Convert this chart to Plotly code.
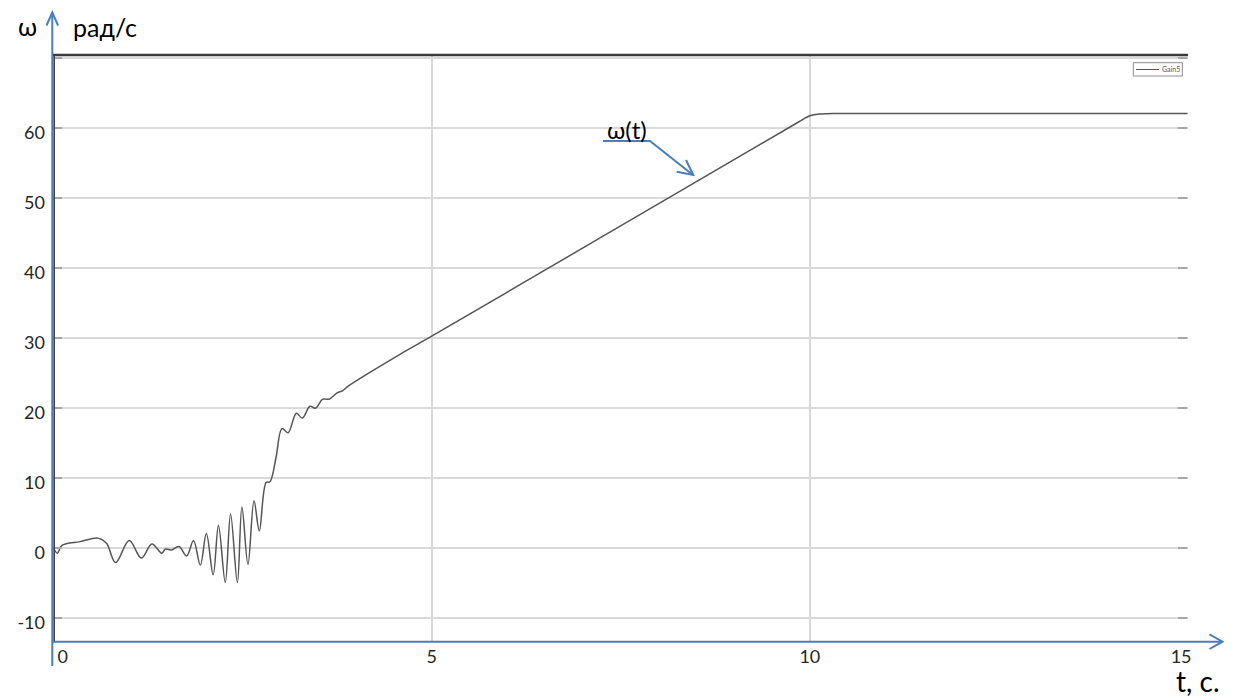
import plotly.graph_objects as go

# Angular speed of the drive, rad/s, sampled at time t, s
t_s = [0.00, 0.05, 0.11, 0.35, 0.59, 0.70, 0.82, 1.00, 1.16, 1.30, 1.43, 1.48,
       1.56, 1.60, 1.66, 1.76, 1.85, 1.94, 2.02, 2.11, 2.18, 2.27, 2.34, 2.43,
       2.49, 2.57, 2.65, 2.72, 2.81, 2.86, 2.94, 3.02, 3.10, 3.21, 3.29, 3.39,
       3.46, 3.56, 3.64, 3.75, 3.82, 3.90, 4.58, 5.00, 7.22, 9.85, 10.00,
       10.15, 10.40, 15.00]
omega = [0.0, -0.7, 0.4, 0.95, 1.45, 0.7, -2.05, 1.1, -1.4, 0.6, -0.7, -0.1,
         -0.25, 0.0, 0.25, -1.1, 1.1, -2.4, 2.1, -3.8, 3.3, -4.9, 4.9, -4.9,
         5.9, -2.3, 6.8, 2.5, 9.4, 9.5, 12.9, 17.1, 16.5, 19.3, 18.6, 20.3,
         20.0, 21.3, 21.3, 22.2, 22.5, 23.2, 27.7, 30.3, 44.3, 60.9, 61.8,
         62.05, 62.1, 62.1]

x_tick_vals = [0, 5, 10, 15]
x_tick_text = ["0", "5", "10", "15"]
y_tick_vals = [-10, 0, 10, 20, 30, 40, 50, 60, 70]
y_tick_text = ["-10", "0", "10", "20", "30", "40", "50", "60", ""]
series_name = "Gain5"

FIG_W, FIG_H = 1233, 699
M_L, M_R, M_T, M_B = 52, 45, 55, 57
PW = FIG_W - M_L - M_R
PH = FIG_H - M_T - M_B

NBSP = "\u00a0"
# first label sits just right of the vertical axis, last one just left of the arrow
x_tick_shown = [NBSP * 4 + x_tick_text[0]] + x_tick_text[1:-1] + [x_tick_text[-1] + NBSP * 3]


def px(x):
    """Pixel column -> paper x."""
    return (x - M_L) / PW


def py(y):
    """Pixel row -> paper y."""
    return (FIG_H - M_B - y) / PH


def path(points):
    return "M " + " L ".join(f"{px(a):.5f},{py(b):.5f}" for a, b in points)


def seg(x0, y0, x1, y1, color, width):
    return dict(type="line", xref="paper", yref="paper",
                x0=px(x0), x1=px(x1), y0=py(y0), y1=py(y1),
                line=dict(color=color, width=width), layer="above")


def label(text, x, y, size, color="#000000"):
    return dict(text=text, x=px(x), y=py(y), xref="paper", yref="paper",
                xanchor="center", yanchor="middle", showarrow=False,
                font=dict(family=FONT, size=size, color=color))


AXIS_BLUE = "#4a7ebb"
FONT = "Lato"

fig = go.Figure()
fig.add_trace(go.Scatter(
    x=t_s, y=omega, mode="lines", name=series_name,
    line=dict(color="#555555", width=1.5, shape="spline", smoothing=1.0),
    showlegend=False,
))

shapes = [
    # hide the grid line that falls on the right edge
    seg(1188.6, 56.5, 1188.6, 641, "white", 2),
    # frame edges of the scope area
    seg(52, 55, 1188, 55, "#3a3a3a", 2.5),
    seg(54.2, 55, 54.2, 642, "#3a3a3a", 1.5),
    # vertical axis with arrow
    seg(52.3, 666, 52.3, 13, AXIS_BLUE, 2),
    dict(type="path", xref="paper", yref="paper",
         path=path([(46.5, 25.5), (52.3, 12.5), (58.1, 25.5)]),
         line=dict(color=AXIS_BLUE, width=2), layer="above"),
    # horizontal axis with arrow
    seg(52, 641.7, 1222, 641.7, AXIS_BLUE, 2),
    dict(type="path", xref="paper", yref="paper",
         path=path([(1209.5, 634.5), (1222.5, 641.7), (1209.5, 649)]),
         line=dict(color=AXIS_BLUE, width=2), layer="above"),
    # pointer to the curve
    dict(type="path", xref="paper", yref="paper",
         path=path([(603, 141), (650, 141), (693, 175)]),
         line=dict(color=AXIS_BLUE, width=2), layer="above"),
    dict(type="path", xref="paper", yref="paper",
         path=path([(686, 160), (693.3, 175), (676.7, 171.7)]),
         line=dict(color=AXIS_BLUE, width=2), layer="above"),
    # small scope legend box
    dict(type="rect", xref="paper", yref="paper",
         x0=px(1133.3), x1=px(1182.3), y0=py(76), y1=py(62.7),
         line=dict(color="#8c8c8c", width=1), fillcolor="white", layer="above"),
    seg(1136, 69.5, 1159, 69.5, "#555555", 1),
]

annotations = [
    label("ω", 27.5, 26, 25),
    label("рад/с", 104.5, 27, 25),
    label("t, с.", 1198, 681, 28),
    label("ω(t)", 626.5, 129, 24),
    label(series_name, 1171, 69.5, 7, "#555555"),
]

fig.update_layout(
    width=FIG_W, height=FIG_H,
    margin=dict(l=M_L, r=M_R, t=M_T, b=M_B, pad=0),
    paper_bgcolor="white", plot_bgcolor="white",
    font=dict(family=FONT, size=18, color="#262626"),
    shapes=shapes, annotations=annotations,
)
fig.update_xaxes(
    range=[-0.0211, 15.0], tickvals=x_tick_vals, ticktext=x_tick_shown, ticks="",
    showgrid=True, gridcolor="#d9d9d9", gridwidth=1.5,
    zeroline=False, showline=False, ticklabelstandoff=2,
    tickfont=dict(family=FONT, size=18, color="#262626"),
)
fig.update_yaxes(
    range=[-13.39, 70.47], tickvals=y_tick_vals, ticktext=y_tick_text,
    ticks="inside", ticklen=10, tickwidth=1.5, tickcolor="#a6a6a6", mirror="ticks",
    showgrid=True, gridcolor="#d9d9d9", gridwidth=1.5,
    zeroline=False, showline=False, ticklabelshift=4, ticklabelstandoff=6,
    tickfont=dict(family=FONT, size=18, color="#262626"),
)

fig.write_html("out.html")
